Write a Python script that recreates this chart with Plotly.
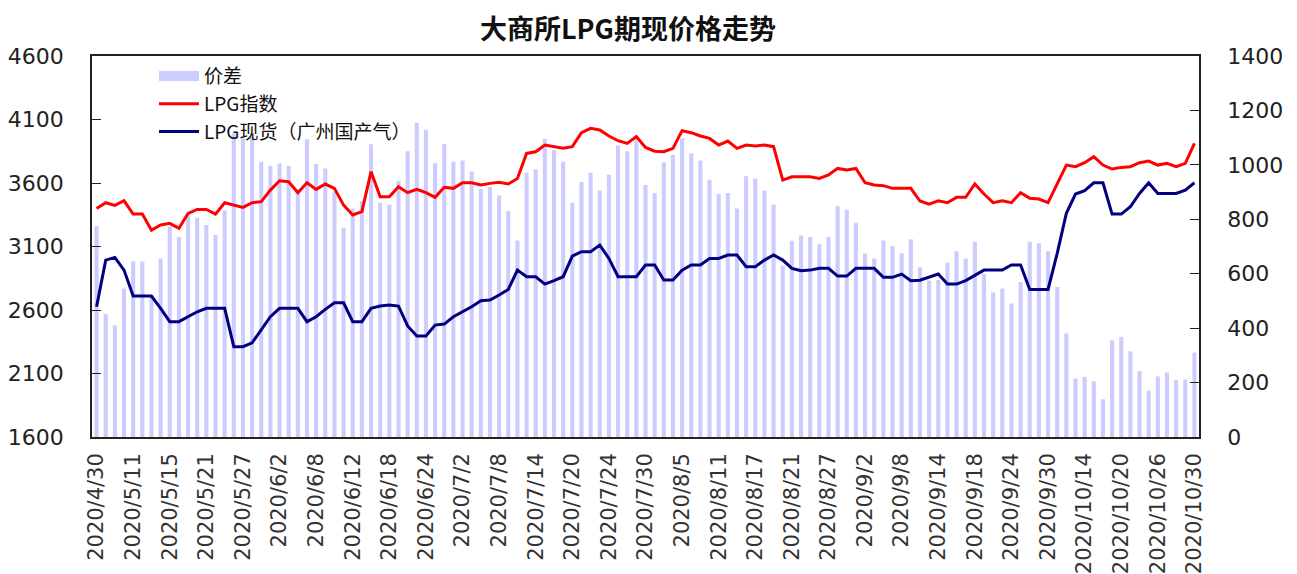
import plotly.graph_objects as go

# Trading days 2020/4/30 - 2020/10/30
months = {
    4: [30],
    5: [6, 7, 8, 11, 12, 13, 14, 15, 18, 19, 20, 21, 22, 25, 26, 27, 28, 29],
    6: [1, 2, 3, 4, 5, 8, 9, 10, 11, 12, 15, 16, 17, 18, 19, 22, 23, 24, 29, 30],
    7: [1, 2, 3, 6, 7, 8, 9, 10, 13, 14, 15, 16, 17, 20, 21, 22, 23, 24, 27, 28, 29, 30, 31],
    8: [3, 4, 5, 6, 7, 10, 11, 12, 13, 14, 17, 18, 19, 20, 21, 24, 25, 26, 27, 28, 31],
    9: [1, 2, 3, 4, 7, 8, 9, 10, 11, 14, 15, 16, 17, 18, 21, 22, 23, 24, 25, 28, 29, 30],
    10: [9, 12, 13, 14, 15, 16, 19, 20, 21, 22, 23, 26, 27, 28, 29, 30],
}
dates = [f"2020/{m}/{d}" for m, days in months.items() for d in days]

lpg_index = [
    3400, 3445, 3424, 3460, 3355, 3355, 3229, 3269, 3282, 3243,
    3361, 3392, 3392, 3355, 3445, 3426, 3408, 3445, 3453, 3544,
    3618, 3610, 3524, 3602, 3550, 3592, 3558, 3426, 3348, 3374,
    3689, 3492, 3492, 3571, 3524, 3550, 3524, 3487, 3566, 3558,
    3602, 3602, 3584, 3597, 3605, 3592, 3636, 3833, 3846, 3899,
    3886, 3873, 3886, 3996, 4030, 4017, 3970, 3933, 3912, 3965,
    3880, 3850, 3846, 3873, 4012, 3996, 3970, 3951, 3899, 3930,
    3873, 3899, 3891, 3899, 3886, 3623, 3649, 3649, 3649, 3636,
    3663, 3715, 3702, 3715, 3602, 3584, 3579, 3558, 3558, 3558,
    3458, 3434, 3460, 3445, 3487, 3487, 3592, 3513, 3445, 3460,
    3445, 3524, 3479, 3474, 3445, 3597, 3741, 3728, 3760, 3807,
    3741, 3710, 3723, 3728, 3760, 3773, 3741, 3755, 3728, 3755,
    3912,
]

lpg_spot = [
    2626, 2993, 3014, 2914, 2710, 2710, 2710, 2613, 2508, 2508,
    2547, 2586, 2613, 2613, 2613, 2311, 2311, 2342, 2442, 2547,
    2613, 2613, 2613, 2508, 2547, 2605, 2657, 2657, 2508, 2508,
    2613, 2631, 2639, 2631, 2474, 2395, 2395, 2481, 2489, 2547,
    2586, 2626, 2673, 2678, 2718, 2762, 2914, 2862, 2862, 2804,
    2831, 2862, 3025, 3059, 3059, 3111, 3006, 2862, 2862, 2862,
    2954, 2954, 2836, 2836, 2914, 2954, 2954, 3006, 3006, 3033,
    3033, 2941, 2941, 2993, 3033, 2993, 2928, 2909, 2914, 2928,
    2928, 2867, 2867, 2928, 2928, 2928, 2857, 2857, 2883, 2831,
    2834, 2860, 2883, 2804, 2804, 2831, 2875, 2914, 2914, 2914,
    2954, 2954, 2762, 2762, 2762, 3046, 3361, 3513, 3539, 3602,
    3602, 3355, 3355, 3413, 3518, 3602, 3518, 3518, 3518, 3544,
    3602,
]

spread = [
    774, 452, 410, 546, 645, 645, 519, 656, 774, 735,
    814, 806, 779, 742, 832, 1115, 1097, 1103, 1011, 997,
    1005, 997, 911, 1094, 1003, 987, 901, 769, 840, 866,
    1076, 861, 853, 940, 1050, 1155, 1129, 1006, 1077, 1011,
    1016, 976, 911, 919, 887, 830, 722, 971, 984, 1095,
    1055, 1011, 861, 937, 971, 906, 964, 1071, 1050, 1103,
    926, 896, 1010, 1037, 1098, 1042, 1016, 945, 893, 897,
    840, 958, 950, 906, 853, 630, 721, 740, 735, 708,
    735, 848, 835, 787, 674, 656, 722, 701, 675, 727,
    624, 574, 577, 641, 683, 656, 717, 599, 531, 546,
    491, 570, 717, 712, 683, 551, 380, 215, 221, 205,
    139, 355, 368, 315, 242, 171, 223, 237, 210, 211,
    310,
]

left_ticks = [1600, 2100, 2600, 3100, 3600, 4100, 4600]
right_ticks = [0, 200, 400, 600, 800, 1000, 1200, 1400]
x_ticks = dates[::4]

bar_color = "rgb(204,204,255)"
tick_font = dict(family="DejaVu Sans", size=22, color="#222222")

# page body has an 8px margin: size the figure to fit inside the window
W, H = 1289, 566

fig = go.Figure()
fig.add_trace(go.Bar(
    x=dates, y=spread, name="价差", yaxis="y", showlegend=False,
    marker=dict(color=bar_color, line=dict(width=0)),
    width=0.45,
))
# legend swatch for the bars (wide band like the original)
fig.add_trace(go.Scatter(
    x=[None], y=[None], name="价差", yaxis="y", mode="lines",
    line=dict(color=bar_color, width=11),
))
fig.add_trace(go.Scatter(
    x=dates, y=lpg_index, name="LPG指数", yaxis="y2", mode="lines",
    line=dict(color="#FF0000", width=3),
))
fig.add_trace(go.Scatter(
    x=dates, y=lpg_spot, name="LPG现货（广州国产气）", yaxis="y2", mode="lines",
    line=dict(color="#000080", width=3),
))

fig.update_layout(
    width=W, height=H,
    margin=dict(l=84, r=98, t=48, b=137, pad=0, autoexpand=False),
    paper_bgcolor="white", plot_bgcolor="white",
    title=dict(
        text="<b>大商所LPG期现价格走势</b>",
        x=620 / W, xanchor="center", y=1 - 22 / H, yanchor="middle",
        font=dict(family="Noto Sans CJK SC", size=27, color="#111111"),
        automargin=False,
    ),
    showlegend=True,
    legend=dict(
        x=0.056, y=0.997, xanchor="left", yanchor="top",
        bgcolor="rgba(0,0,0,0)", tracegroupgap=0,
        font=dict(family="Noto Sans CJK SC", size=19, color="#111111"),
        itemwidth=40,
    ),
    xaxis=dict(
        type="category", range=[-0.5, 120.5], automargin=False,
        tickmode="array", tickvals=x_ticks, ticktext=x_ticks,
        tickangle=-90, tickfont=dict(family="DejaVu Sans", size=21, color="#333333"),
        ticks="", showgrid=False, zeroline=False,
        showline=True, mirror=True, linecolor="#222222", linewidth=1.5,
        ticklabelstandoff=6,
    ),
    yaxis=dict(
        side="right", range=[0, 1400], tickvals=right_ticks, automargin=False,
        ticks="inside", ticklen=9, tickcolor="#222222", tickwidth=1.2,
        showgrid=False, zeroline=False,
        showline=True, linecolor="#222222", linewidth=1.5,
        tickfont=tick_font, ticklabelstandoff=22,
    ),
    yaxis2=dict(
        side="left", overlaying="y", anchor="x", range=[1600, 4600], tickvals=left_ticks,
        automargin=False,
        ticks="inside", ticklen=9, tickcolor="#222222", tickwidth=1.2,
        showgrid=False, zeroline=False,
        showline=True, linecolor="#222222", linewidth=1.5,
        tickfont=tick_font, ticklabelstandoff=22,
    ),
)

fig.write_html("out.html")
